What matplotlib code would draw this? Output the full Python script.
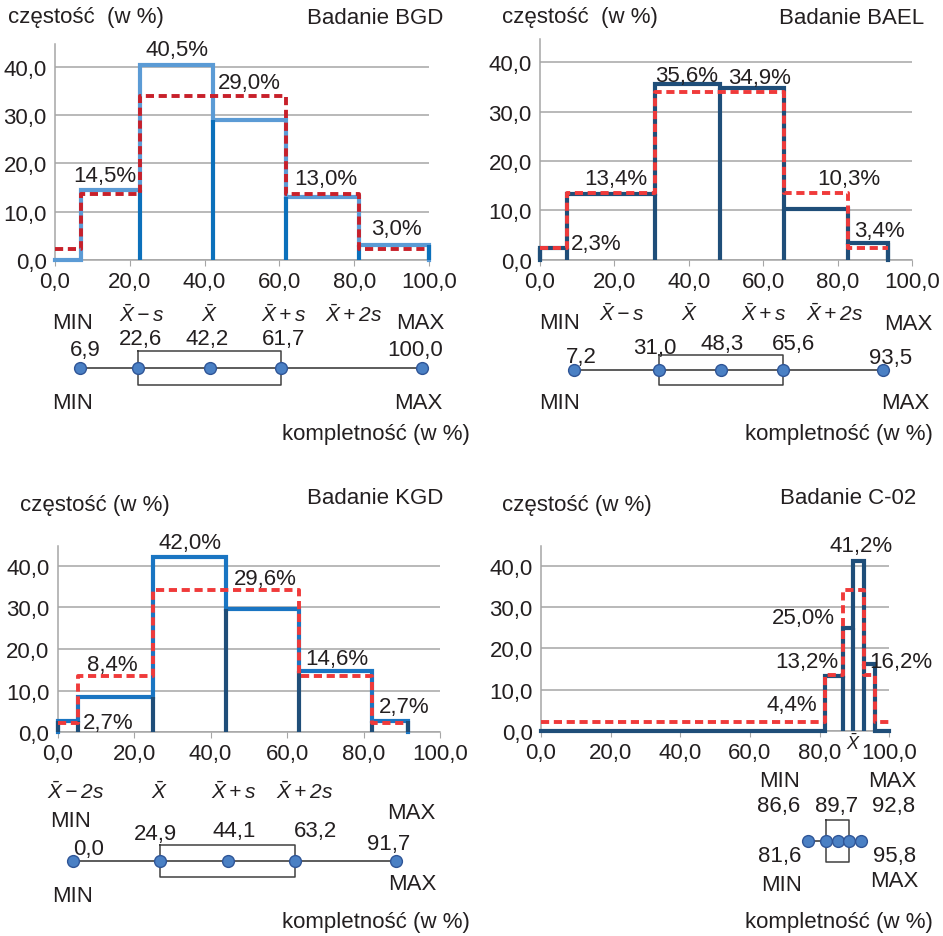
import numpy as np
import matplotlib
matplotlib.use("Agg")
import matplotlib.pyplot as plt
from matplotlib.ticker import FuncFormatter

plt.rcParams['font.family'] = ['Liberation Sans', 'DejaVu Sans']
plt.rcParams['font.size'] = 16
plt.rcParams['mathtext.fontset'] = 'custom'
plt.rcParams['mathtext.it'] = 'Liberation Sans:italic'
plt.rcParams['mathtext.rm'] = 'Liberation Sans:italic'
plt.rcParams['text.color'] = '#231f20'

#-----------------DANE-----------------#

normal_pct = [2.3, 13.6, 34.1, 34.1, 13.6, 2.3]

bgd_edges = [0.0, 6.9, 22.6, 42.2, 61.7, 81.3, 100.0]
bgd_freq = [0.0, 14.5, 40.5, 29.0, 13.0, 3.0]
bgd_stats = [6.9, 22.6, 42.2, 61.7, 100.0]

bael_edges = [0.0, 7.2, 31.0, 48.3, 65.6, 82.9, 93.5]
bael_freq = [2.3, 13.4, 35.6, 34.9, 10.3, 3.4]
bael_stats = [7.2, 31.0, 48.3, 65.6, 93.5]

kgd_edges = [0.0, 5.4, 24.9, 44.1, 63.2, 82.3, 91.7]
kgd_freq = [2.7, 8.4, 42.0, 29.6, 14.6, 2.7]
kgd_stats = [0.0, 24.9, 44.1, 63.2, 91.7]

c02_edges = [0.0, 81.6, 86.6, 89.7, 92.8, 95.8, 100.0]
c02_freq = [0.0, 13.2, 25.0, 41.2, 16.2, 0.0]
c02_stats = [81.6, 86.6, 89.7, 92.8, 95.8]

# etykiety procentowe: tekst, x, y (w jednostkach osi)
bgd_pct_labels = [("40,5%", 32.5, 43.8), ("29,0%", 52.0, 36.9), ("14,5%", 13.4, 17.5),
                  ("13,0%", 72.5, 16.8), ("3,0%", 91.4, 6.5)]
bael_pct_labels = [("35,6%", 39.4, 37.3), ("34,9%", 59.1, 36.9), ("13,4%", 20.3, 16.4),
                   ("10,3%", 82.9, 16.4), ("3,4%", 91.2, 5.9), ("2,3%", 15.2, 3.2)]
kgd_pct_labels = [("42,0%", 34.6, 45.6), ("29,6%", 54.3, 36.8), ("8,4%", 14.3, 16.3),
                  ("2,7%", 13.2, 2.4), ("14,6%", 73.0, 17.6), ("2,7%", 90.7, 6.2)]
c02_pct_labels = [("41,2%", 91.8, 45.0), ("25,0%", 75.3, 27.6), ("13,2%", 76.4, 16.8),
                  ("16,2%", 103.3, 16.8), ("4,4%", 72.0, 6.5)]

XM = r'$\bar{X}$'
# teksty pod wykresem pudełkowym: tekst, x, przesunięcie pionowe (px, w dół)
bgd_box_text = [(r'$\bar{X} - s$', 23.7, -54), (XM, 42.1, -54), (r'$\bar{X} + s$', 62.2, -54),
                (r'$\bar{X} + 2s$', 81.4, -54), ("MIN", 5.0, -46), ("MAX", 99.4, -46),
                ("22,6", 23.4, -30), ("42,2", 41.5, -30), ("61,7", 62.2, -30),
                ("6,9", 8.3, -19), ("100,0", 98.0, -19), ("MIN", 4.9, 34), ("MAX", 98.9, 34)]
bael_box_text = [(r'$\bar{X} - s$', 20.4, -57), (XM, 39.5, -57), (r'$\bar{X} + s$', 60.0, -57),
                 (r'$\bar{X} + 2s$', 80.0, -57), ("MIN", 3.0, -47), ("MAX", 100.5, -46),
                 ("7,2", 9.3, -13), ("31,0", 29.7, -22), ("48,3", 48.4, -26), ("65,6", 68.4, -26),
                 ("93,5", 95.6, -12), ("MIN", 3.2, 33), ("MAX", 99.6, 33)]
kgd_box_text = [(r'$\bar{X} - 2s$', 0.9, -70), (XM, 24.6, -70), (r'$\bar{X} + s$', 45.6, -70),
                (r'$\bar{X} + 2s$', 65.7, -70), ("MIN", -0.6, -40), ("MAX", 96.1, -48),
                ("24,9", 23.6, -27), ("44,1", 45.9, -30), ("63,2", 68.8, -30),
                ("0,0", 4.4, -12), ("91,7", 89.6, -17), ("MAX", 96.5, 23), ("MIN", 0.0, 35)]
c02_box_text = [("MIN", 74.0, -61), ("MAX", 104.4, -61), ("86,6", 73.7, -36), ("89,7", 89.4, -36),
                ("92,8", 104.6, -36), ("81,6", 74.2, 14), ("95,8", 105.0, 14),
                ("MIN", 74.6, 43), ("MAX", 104.8, 39)]

#-----------------RYSOWANIE-----------------#

W, H = 943, 937
fig = plt.figure(figsize=(W / 100, H / 100), dpi=100)

def px_axes(x0, y0, x1, y1):
    return fig.add_axes([x0 / W, 1 - y1 / H, (x1 - x0) / W, (y1 - y0) / H])

def comma(v, pos=None):
    return f"{v:.1f}".replace('.', ',')

def histogram(box, edges, freq, top_col, dark_col, red_col, labels):
    ax = px_axes(*box)
    e = np.array(edges)
    f = np.array(freq)
    ax.set_xlim(0, 100)
    ax.set_ylim(0, 44.8)
    ax.set_yticks([0, 10, 20, 30, 40])
    ax.set_xticks([0, 20, 40, 60, 80, 100])
    ax.grid(axis='y', color='#a6a6a6', lw=1.1)
    ax.set_axisbelow(True)
    for s in ['top', 'right']:
        ax.spines[s].set_visible(False)
    for s in ['left', 'bottom']:
        ax.spines[s].set_color('#a6a6a6')
        ax.spines[s].set_linewidth(1.1)
    ax.tick_params(axis='x', length=4, color='#a6a6a6', pad=4, labelsize=16, labelcolor='#231f20')
    ax.tick_params(axis='y', length=0, pad=6, labelsize=16, labelcolor='#231f20')
    ax.xaxis.set_major_formatter(FuncFormatter(comma))
    ax.yaxis.set_major_formatter(FuncFormatter(comma))
    # schodkowy zarys słupków
    xs = np.repeat(e, 2)
    ys = np.concatenate([[0], np.repeat(f, 2), [0]])
    ax.plot(xs, ys, color=top_col, lw=3, solid_joinstyle='miter', clip_on=False, zorder=3)
    # pionowe krawędzie między słupkami
    left = np.concatenate([[f[0]], f])
    right = np.concatenate([f, [f[-1]]])
    ax.vlines(e, 0, np.minimum(left, right), color=dark_col, lw=3, clip_on=False, zorder=3)
    # rozkład normalny
    rx = np.repeat(e, 2)[1:-1]
    ry = np.repeat(normal_pct, 2)
    ax.plot(rx, ry, color=red_col, lw=2.8, ls=(0, (2.1, 1.2)), clip_on=False, zorder=4)
    for t, x, y in labels:
        ax.text(x, y, t, ha='center', va='center', fontsize=16)
    return ax

def boxplot(x0, x1, cy, stats, half, texts):
    ax = px_axes(x0, cy - 80, x1, cy + 90)
    ax.set_xlim(0, 100)
    ax.set_ylim(90, -80)
    ax.axis('off')
    ax.plot([stats[0], stats[-1]], [0, 0], color='#404040', lw=1.2, zorder=2, clip_on=False)
    ax.plot([stats[1], stats[3], stats[3], stats[1], stats[1]], [-half, -half, half, half, -half],
            color='#404040', lw=1.1, zorder=2, clip_on=False)
    ax.plot(stats, [0] * len(stats), 'o', ms=8.5, mfc='#4a80c4', mec='#2f5597', mew=1,
            zorder=3, clip_on=False)
    for t, x, dy in texts:
        ax.text(x, dy, t, ha='center', va='center', fontsize=16 if '$' not in t else 15)
    return ax

def header(left_x, left_y, ltxt, right_x, right_y, rtxt, komp_x, komp_y):
    fig.text(left_x / W, 1 - left_y / H, ltxt, ha='left', va='center', fontsize=16)
    fig.text(right_x / W, 1 - right_y / H, rtxt, ha='right', va='center', fontsize=16)
    fig.text(komp_x / W, 1 - komp_y / H, "kompletność (w %)", ha='right', va='center', fontsize=16)

histogram((55, 45.2, 429, 260.7), bgd_edges, bgd_freq, '#5b9bd5', '#0b70bb', '#c8202a', bgd_pct_labels)
histogram((540, 39.8, 912, 260.7), bael_edges, bael_freq, '#1f4e79', '#1f4e79', '#f03a3a', bael_pct_labels)
histogram((57.7, 546.6, 440, 733.3), kgd_edges, kgd_freq, '#1a75c2', '#1f4e79', '#f03a3a', kgd_pct_labels)
ax4 = histogram((541, 547, 889.3, 732), c02_edges, c02_freq, '#1f4e79', '#1f4e79', '#f03a3a', c02_pct_labels)
ax4.text(c02_stats[2], -2.9, XM, ha='center', va='center', fontsize=13)

boxplot(54.6, 422.3, 369.3, bgd_stats, 17, bgd_box_text)
boxplot(548.5, 906.5, 370.7, bael_stats, 15, bael_box_text)
boxplot(72.7, 424.9, 861.7, kgd_stats, 16, kgd_box_text)
boxplot(503.3, 876.3, 842.3, c02_stats, 21, c02_box_text)

header(8, 18, "częstość  (w %)", 443, 18, "Badanie BGD", 470, 435)
header(502, 18, "częstość  (w %)", 924, 18, "Badanie BAEL", 933, 435)
header(20, 505, "częstość (w %)", 443, 498, "Badanie KGD", 470, 923)
header(502, 505, "częstość (w %)", 916, 498, "Badanie C-02", 933, 923)

fig.savefig("out.png", dpi=100)
